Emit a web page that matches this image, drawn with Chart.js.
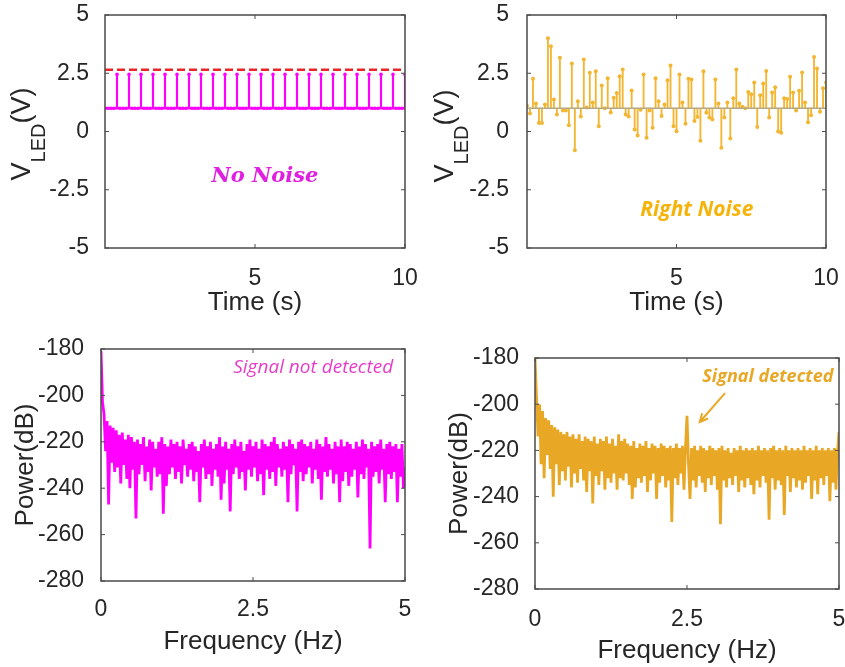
<!DOCTYPE html>
<html>
<head>
<meta charset="utf-8">
<script src="https://cdn.jsdelivr.net/npm/chart.js@4.4.1/dist/chart.umd.min.js"></script>
<style>
  body { margin: 0; background: #fff; }
  #wrap { position: relative; width: 845px; height: 667px; }
  .panel { position: absolute; }
</style>
</head>
<body>
<div id="wrap">
  <div class="panel" style="left:0;top:0;width:420px;height:320px"><canvas id="ledClean"></canvas></div>
  <div class="panel" style="left:420px;top:0;width:425px;height:320px"><canvas id="ledNoisy"></canvas></div>
  <div class="panel" style="left:0;top:330px;width:420px;height:337px"><canvas id="psdClean"></canvas></div>
  <div class="panel" style="left:420px;top:330px;width:425px;height:337px"><canvas id="psdNoisy"></canvas></div>
</div>
<script>
// LED drive voltage, sampled every 0.1 s over 10 s
const SAMPLE_S = 0.1;
const BASE_V = 1;          // stem base level
const THRESHOLD_V = 2.65;  // red dashed level

const ledClean = [1,
  1, 1, 1, 2.45,  1, 1, 1, 2.45,  1, 1, 1, 2.45,  1, 1, 1, 2.45,  1, 1, 1, 2.45,
  1, 1, 1, 2.45,  1, 1, 1, 2.45,  1, 1, 1, 2.45,  1, 1, 1, 2.45,  1, 1, 1, 2.45,
  1, 1, 1, 2.45,  1, 1, 1, 2.45,  1, 1, 1, 2.45,  1, 1, 1, 2.45,  1, 1, 1, 2.45,
  1, 1, 1, 2.45,  1, 1, 1, 2.45,  1, 1, 1, 2.45,  1, 1, 1, 2.45,  1, 1, 1, 2.45,
  1, 1, 1, 2.45,  1, 1, 1, 2.45,  1, 1, 1, 2.45,  1, 1, 1, 2.45,  1, 1, 1, 2.45];

const ledNoisy = [
  1.1, 0.77, 2.26, 1.2, 0.37, 0.37, 1.16, 4.0, 3.66, 1.37, 0.73, 3.16, 0.9, 0.9, 0.27, 2.92,
  -0.8, 1.3, 0.64, 3.09, 1.03, 2.52, 1.25, 2.59, 0.23, 1.97, 1.0, 2.29, 0.82, 1.45, 1.65, 2.37, 2.66,
  0.73, 0.64, 1.76, 0.09, -0.17, 0.93, 2.45, -0.27, 0.9, 0.16, 2.29, 1.3, 0.67, 1.16, 2.2, 2.83,
  0.23, 0.01, 2.45, 1.25, 0.33, 2.26, 2.23, 0.45, 0.62, -0.4, 2.59, 0.8, 0.6, 0.52, 2.23, 1.2, -0.7,
  0.6, 1.25, -0.3, 1.43, 2.66, 1.2, 1.06, 1.0, 1.7, 1.6, 2.1, 0.19, 1.56, 2.06, 2.6, 0.6, 1.67,
  1.9, 0.0, -0.05, 1.43, 1.4, 2.35, 1.67, 0.9, 1.75, 2.53, 1.25, 0.4, 0.7, 3.2, 2.7, 0.85, 1.86, 2.1];

// power spectra, 0..5 Hz in 0.025 Hz bins
const FREQ_STEP_HZ = 0.025;

const psdClean = [
  -181, -203, -208, -224, -211, -247, -213, -229, -214, -233,
  -215, -231, -217, -238, -216, -230, -219, -236, -217, -240,
  -218, -232, -220, -253, -219, -234, -221, -230, -218, -237,
  -222, -233, -219, -241, -220, -231, -223, -235, -220, -234,
  -218, -251, -221, -239, -222, -234, -219, -231, -221, -236,
  -220, -233, -222, -238, -219, -230, -223, -235, -221, -232,
  -220, -237, -222, -233, -224, -246, -221, -231, -219, -236,
  -222, -234, -220, -239, -223, -232, -221, -235, -218, -245,
  -222, -238, -220, -232, -223, -250, -221, -234, -219, -231,
  -222, -236, -220, -233, -224, -241, -221, -232, -219, -235,
  -222, -231, -220, -237, -223, -234, -219, -243, -221, -232,
  -222, -236, -220, -233, -218, -239, -221, -231, -223, -235,
  -220, -232, -222, -246, -219, -234, -221, -230, -223, -250,
  -220, -233, -219, -237, -221, -234, -222, -231, -220, -238,
  -223, -232, -219, -236, -221, -245, -222, -233, -218, -235,
  -221, -232, -223, -238, -220, -234, -222, -246, -219, -237,
  -222, -233, -220, -239, -221, -235, -223, -232, -220, -244,
  -222, -234, -219, -236, -221, -231, -223, -266, -220, -235,
  -222, -233, -221, -238, -219, -232, -223, -246, -221, -234,
  -220, -236, -222, -233, -221, -246, -223, -235, -221, -240,
  -231];

const psdNoisy = [
  -180, -197, -214, -200, -226, -203, -232, -206, -222, -207,
  -228, -209, -240, -210, -226, -211, -235, -212, -229, -213,
  -233, -212, -227, -214, -236, -213, -230, -215, -234, -213,
  -228, -216, -233, -214, -238, -215, -229, -216, -243, -214,
  -231, -217, -235, -215, -229, -216, -237, -214, -232, -217,
  -234, -215, -230, -218, -237, -213, -232, -216, -233, -215,
  -230, -217, -235, -218, -241, -216, -236, -219, -232, -217,
  -234, -218, -231, -216, -238, -219, -233, -217, -230, -218,
  -241, -219, -234, -217, -231, -218, -236, -219, -233, -218,
  -251, -219, -232, -217, -235, -219, -230, -218, -237, -219,
  -205, -226, -241, -219, -233, -218, -236, -220, -231, -218,
  -234, -219, -238, -220, -232, -218, -235, -219, -231, -220,
  -237, -219, -252, -218, -233, -220, -236, -219, -232, -221,
  -235, -219, -231, -220, -238, -218, -233, -220, -236, -219,
  -232, -220, -235, -219, -239, -220, -233, -218, -236, -220,
  -231, -219, -234, -220, -250, -219, -232, -218, -237, -220,
  -233, -219, -235, -220, -248, -218, -231, -220, -238, -219,
  -232, -220, -236, -219, -233, -220, -237, -218, -234, -220,
  -231, -219, -241, -220, -233, -218, -239, -220, -232, -219,
  -235, -220, -231, -219, -242, -220, -234, -219, -237, -221,
  -212];

const voltTicks = [-5, -2.5, 0, 2.5, 5];
const timeTicks = [5, 10];
const powerTicks = [-280, -260, -240, -220, -200, -180];
const freqTicks = [0, 2.5, 5];

const MAGENTA = '#ff00ff';
const GOLD = '#f2b632';
const GOLD_DARK = '#e8a826';
const INK = '#262626';
const SANS = "'Liberation Sans', Arial, sans-serif";

const stems = vals => vals.map((v, i) => ({ x: i * SAMPLE_S, y: [BASE_V, v] }));
const tops = vals => vals.map((v, i) => ({ x: i * SAMPLE_S, y: v }));
const spectrum = vals => vals.map((v, i) => ({ x: i * FREQ_STEP_HZ, y: v }));

// box outline, inward tick marks, text notes and the subscripted y label
const panelDecor = {
  id: 'panelDecor',
  afterDatasetsDraw(chart, args, opts) {
    const { ctx, chartArea: a, scales: { x, y } } = chart;
    ctx.save();
    ctx.strokeStyle = '#4a4a4a';
    ctx.lineWidth = 1.5;
    ctx.strokeRect(a.left, a.top, a.width, a.height);
    ctx.lineWidth = 1;
    ctx.beginPath();
    x.ticks.forEach(t => {
      const px = x.getPixelForValue(t.value);
      ctx.moveTo(px, a.bottom); ctx.lineTo(px, a.bottom - 4);
      ctx.moveTo(px, a.top); ctx.lineTo(px, a.top + 4);
    });
    y.ticks.forEach(t => {
      const py = y.getPixelForValue(t.value);
      ctx.moveTo(a.left, py); ctx.lineTo(a.left + 4, py);
      ctx.moveTo(a.right, py); ctx.lineTo(a.right - 4, py);
    });
    ctx.stroke();

    (opts.notes || []).forEach(n => {
      ctx.font = n.font;
      ctx.fillStyle = n.color;
      ctx.textAlign = 'center';
      ctx.textBaseline = 'middle';
      ctx.fillText(n.text, x.getPixelForValue(n.x), y.getPixelForValue(n.y));
    });

    if (opts.arrow) {
      const r = opts.arrow;
      const x0 = x.getPixelForValue(r.from[0]), y0 = y.getPixelForValue(r.from[1]);
      const x1 = x.getPixelForValue(r.to[0]), y1 = y.getPixelForValue(r.to[1]);
      const ang = Math.atan2(y1 - y0, x1 - x0);
      ctx.strokeStyle = r.color;
      ctx.lineWidth = 2;
      ctx.beginPath();
      ctx.moveTo(x0, y0); ctx.lineTo(x1, y1);
      ctx.moveTo(x1 - 9 * Math.cos(ang - 0.45), y1 - 9 * Math.sin(ang - 0.45));
      ctx.lineTo(x1, y1);
      ctx.lineTo(x1 - 9 * Math.cos(ang + 0.45), y1 - 9 * Math.sin(ang + 0.45));
      ctx.stroke();
    }

    if (opts.vLabel) {
      const L = opts.vLabel;
      const big = `27px ${SANS}`, small = `20px ${SANS}`;
      ctx.translate(L.x, L.y);
      ctx.rotate(-Math.PI / 2);
      ctx.fillStyle = INK;
      ctx.textAlign = 'left';
      ctx.textBaseline = 'alphabetic';
      ctx.font = big;
      const w1 = ctx.measureText('V').width, w3 = ctx.measureText('(V)').width;
      ctx.font = small;
      const w2 = ctx.measureText('LED').width;
      const s = -(w1 + w2 + w3) / 2;
      ctx.font = big; ctx.fillText('V', s, 0);
      ctx.font = small; ctx.fillText('LED', s + w1, 15);
      ctx.font = big; ctx.fillText('(V)', s + w1 + w2, 0);
    }
    ctx.restore();
  }
};
Chart.register(panelDecor);

function axes(o) {
  const tickFont = { family: SANS, size: 23 };
  const titleFont = { family: SANS, size: 26 };
  return {
    x: {
      type: 'linear', min: o.xRange[0], max: o.xRange[1], offset: false,
      grid: { display: false }, border: { display: false },
      afterBuildTicks: s => { s.ticks = o.xTicks.map(v => ({ value: v })); },
      afterFit: s => { s.height = o.xHeight; s.paddingLeft = 0; s.paddingRight = 0; },
      ticks: { color: INK, font: tickFont, padding: o.xTickPad, maxRotation: 0, autoSkip: false,
               callback: v => String(v) },
      title: { display: true, text: o.xTitle, color: INK, font: titleFont,
               padding: { top: 0, bottom: o.xTitlePad } }
    },
    y: {
      type: 'linear', min: o.yRange[0], max: o.yRange[1],
      grid: { display: false }, border: { display: false },
      afterBuildTicks: s => { s.ticks = o.yTicks.map(v => ({ value: v })); },
      afterFit: s => { s.width = o.yWidth; s.paddingTop = 0; s.paddingBottom = 0; },
      ticks: { color: INK, font: tickFont, padding: o.yTickPad, autoSkip: false,
               callback: v => String(v) },
      title: o.yTitle
        ? { display: true, text: o.yTitle, color: INK, font: titleFont, padding: { top: o.yTitlePad, bottom: 0 } }
        : { display: false }
    }
  };
}

function baseOptions(pad, scales, decor) {
  return {
    responsive: true,
    maintainAspectRatio: false,
    animation: false,
    events: [],
    layout: { padding: pad },
    plugins: { legend: { display: false }, tooltip: { enabled: false }, panelDecor: decor },
    scales: scales
  };
}

// top left: clean drive signal
new Chart(document.getElementById('ledClean'), {
  type: 'scatter',
  data: {
    datasets: [
      { type: 'line', data: [{ x: 0, y: THRESHOLD_V }, { x: 10, y: THRESHOLD_V }],
        borderColor: '#e8262a', borderWidth: 2.5, borderDash: [8, 4], pointRadius: 0 },
      { type: 'line', data: [{ x: 0, y: BASE_V }, { x: 10, y: BASE_V }],
        borderColor: MAGENTA, borderWidth: 2.5, pointRadius: 0 },
      { type: 'bar', data: stems(ledClean), backgroundColor: MAGENTA, barThickness: 1.5 },
      { data: tops(ledClean), pointRadius: 1.8, backgroundColor: MAGENTA, borderWidth: 0 }
    ]
  },
  options: baseOptions({ left: 0, top: 15, right: 15, bottom: 0 },
    axes({ xRange: [0, 10], xTicks: timeTicks, xHeight: 72, xTickPad: 9, xTitle: 'Time (s)', xTitlePad: 2,
           yRange: [-5, 5], yTicks: voltTicks, yWidth: 105, yTickPad: 8 }),
    { vLabel: { x: 30, y: 134 },
      notes: [{ text: 'No Noise', x: 5.33, y: -1.93, color: '#e020e0', font: `italic bold 21px 'DejaVu Serif', serif` }] })
});

// top right: drive signal with noise
new Chart(document.getElementById('ledNoisy'), {
  type: 'scatter',
  data: {
    datasets: [
      { type: 'line', data: [{ x: 0, y: BASE_V }, { x: 10, y: BASE_V }],
        borderColor: '#b5a885', borderWidth: 1.5, pointRadius: 0 },
      { type: 'bar', data: stems(ledNoisy), backgroundColor: GOLD, barThickness: 1.2 },
      { data: tops(ledNoisy), pointRadius: 2, backgroundColor: GOLD, borderWidth: 0 }
    ]
  },
  options: baseOptions({ left: 0, top: 15, right: 19, bottom: 0 },
    axes({ xRange: [0, 10], xTicks: timeTicks, xHeight: 72, xTickPad: 9, xTitle: 'Time (s)', xTitlePad: 2,
           yRange: [-5, 5], yTicks: voltTicks, yWidth: 107, yTickPad: 10 }),
    { vLabel: { x: 33, y: 136 },
      notes: [{ text: 'Right Noise', x: 5.68, y: -3.35, color: '#f6b40a', font: `italic bold 21px 'Open Sans', sans-serif` }] })
});

// bottom left: spectrum without noise
new Chart(document.getElementById('psdClean'), {
  type: 'scatter',
  data: {
    datasets: [
      { type: 'line', data: spectrum(psdClean), borderColor: MAGENTA, borderWidth: 2.8,
        pointRadius: 0, tension: 0 }
    ]
  },
  options: baseOptions({ left: 0, top: 19, right: 15, bottom: 0 },
    axes({ xRange: [0, 5], xTicks: freqTicks, xHeight: 86, xTickPad: 7, xTitle: 'Frequency (Hz)', xTitlePad: 10,
           yRange: [-280, -180], yTicks: powerTicks, yWidth: 101, yTickPad: 9,
           yTitle: 'Power(dB)', yTitlePad: 10 }),
    { notes: [{ text: 'Signal not detected', x: 3.49, y: -187.8, color: '#e63cc8', font: `italic 19px 'Open Sans', sans-serif` }] })
});

// bottom right: spectrum with noise, peak at 2.5 Hz
new Chart(document.getElementById('psdNoisy'), {
  type: 'scatter',
  data: {
    datasets: [
      { type: 'line', data: spectrum(psdNoisy), borderColor: GOLD_DARK, borderWidth: 2.8,
        pointRadius: 0, tension: 0 }
    ]
  },
  options: baseOptions({ left: 0, top: 28, right: 6, bottom: 0 },
    axes({ xRange: [0, 5], xTicks: freqTicks, xHeight: 78, xTickPad: 9, xTitle: 'Frequency (Hz)', xTitlePad: 1,
           yRange: [-280, -180], yTicks: powerTicks, yWidth: 115, yTickPad: 8,
           yTitle: 'Power(dB)', yTitlePad: 24 }),
    { notes: [{ text: 'Signal detected', x: 3.83, y: -188.1, color: GOLD_DARK, font: `italic bold 18px 'Open Sans', sans-serif` }],
      arrow: { from: [3.125, -195.2], to: [2.71, -207.7], color: GOLD_DARK } })
});
</script>
</body>
</html>
